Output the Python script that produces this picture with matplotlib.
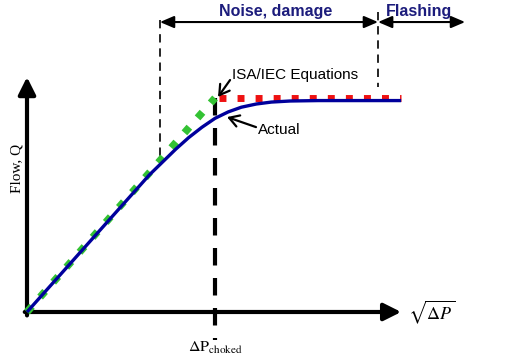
import matplotlib
matplotlib.use("Agg")
import matplotlib.pyplot as plt

# ---- data (normalised units: sqrt(dP_choked)=1, ISA flow at choked = 1) ----
actual_x = [0.0, 0.65, 0.72, 0.79, 0.86, 0.93, 1.00, 1.07, 1.14, 1.22, 1.30, 1.40, 1.55, 1.99]
actual_y = [0.0, 0.64, 0.70, 0.76, 0.815, 0.863, 0.905, 0.935, 0.957, 0.972, 0.981, 0.986, 0.988, 0.988]
isa_rise_x = [0.0, 1.0]
isa_rise_y = [0.0, 1.0]
isa_flat_x = [1.02, 1.99]
isa_flat_y = [1.0, 1.0]
choked_x = 1.0
noise_start = 0.707
flash_start = 1.867
flash_end = 2.33

plt.rcParams['mathtext.fontset'] = 'stix'

fig = plt.figure(figsize=(5.26, 3.58), dpi=100)
ax = fig.add_axes([0, 0, 1, 1])
ax.set_xlim(-0.1436, 2.654)
ax.set_ylim(-0.215, 1.458)
ax.axis('off')

navy = '#1c1c7c'

# axes arrows
ax.annotate('', xy=(0.0, 1.098), xytext=(0.0, -0.016),
            arrowprops=dict(arrowstyle='-|>,head_length=0.8,head_width=0.4', lw=3, color='black',
                            mutation_scale=13, shrinkA=0, shrinkB=0))
ax.annotate('', xy=(1.99, 0.0), xytext=(-0.012, 0.0),
            arrowprops=dict(arrowstyle='-|>,head_length=0.8,head_width=0.4', lw=3, color='black',
                            mutation_scale=13, shrinkA=0, shrinkB=0))

# choked dashed line
ax.plot([choked_x, choked_x], [1.0, -0.131], color='black', lw=3,
        linestyle=(0, (4.2, 3.0)), solid_capstyle='butt', dash_capstyle='butt', zorder=2)

# thin region dashed lines
ax.plot([noise_start, noise_start], [1.364, 0.70], color='black', lw=1.2,
        linestyle=(0, (5, 3.5)), zorder=2)
ax.plot([flash_start, flash_start], [1.402, 1.051], color='black', lw=1.2,
        linestyle=(0, (5, 3.5)), zorder=2)

# region arrows
arr_y = 1.355
ax.annotate('', xy=(flash_start, arr_y), xytext=(noise_start, arr_y),
            arrowprops=dict(arrowstyle='<|-|>,head_length=0.7,head_width=0.3', lw=1.5,
                            color='black', mutation_scale=12, shrinkA=0, shrinkB=0))
ax.annotate('', xy=(flash_end, arr_y), xytext=(flash_start, arr_y),
            arrowprops=dict(arrowstyle='<|-|>,head_length=0.7,head_width=0.3', lw=1.5,
                            color='black', mutation_scale=12, shrinkA=0, shrinkB=0))
ax.text(1.324, 1.405, 'Noise, damage', color=navy, fontsize=11.5, fontweight='bold',
        family='Liberation Sans', ha='center', va='center')
ax.text(2.085, 1.405, 'Flashing', color=navy, fontsize=11.5, fontweight='bold',
        family='Liberation Sans', ha='center', va='center')

# ISA/IEC lines
ax.plot(isa_rise_x, isa_rise_y, color='#33c233', lw=5.4,
        linestyle=(0, (1, 1.65)), dash_capstyle='butt', zorder=3)
ax.plot(isa_flat_x, isa_flat_y, color='#ee1111', lw=5,
        linestyle=(0, (1, 1.6)), dash_capstyle='butt', zorder=3)

# actual curve
ax.plot(actual_x, actual_y, color='#00009c', lw=2.4, zorder=4, solid_capstyle='butt')

# annotations
ax.text(1.09, 1.107, 'ISA/IEC Equations', fontsize=11, family='Liberation Sans',
        va='center', ha='left')
ax.annotate('', xy=(1.016, 1.005), xytext=(1.08, 1.084),
            arrowprops=dict(arrowstyle='->,head_length=0.5,head_width=0.3', lw=1.6, color='black',
                            mutation_scale=14, shrinkA=0, shrinkB=0))
ax.text(1.229, 0.850, 'Actual', fontsize=11, family='Liberation Sans', va='center', ha='left')
ax.annotate('', xy=(1.064, 0.911), xytext=(1.218, 0.864),
            arrowprops=dict(arrowstyle='->,head_length=0.5,head_width=0.3', lw=1.6, color='black',
                            mutation_scale=14, shrinkA=0, shrinkB=0))

# axis labels
ax.text(-0.053, 0.673, 'Flow, Q', rotation=90, fontsize=11, family='Liberation Serif',
        ha='center', va='center')
ax.text(1.0, -0.168, r'$\Delta\mathrm{P}_{\mathrm{choked}}$', fontsize=11.5,
        ha='center', va='center')
ax.text(2.027, 0.0, r'$\sqrt{\Delta P}$', fontsize=13, ha='left', va='center')

fig.savefig('out.png', dpi=100)
